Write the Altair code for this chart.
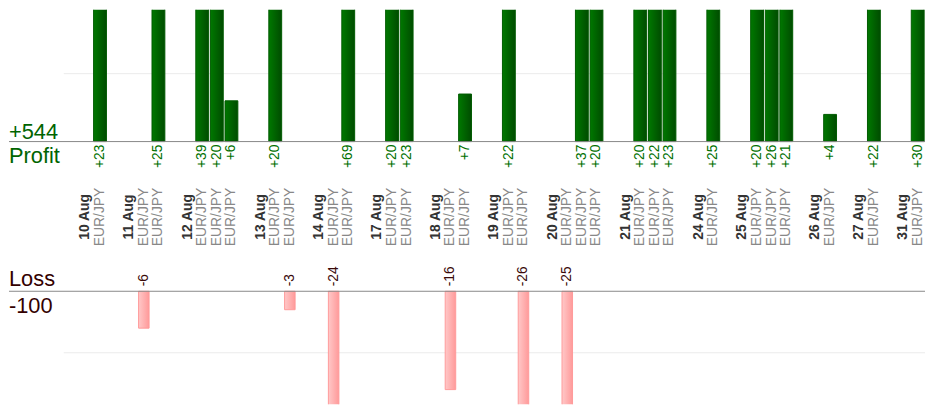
import altair as alt
import pandas as pd

# ---- data ----
dates = ["10 Aug", "11 Aug", "12 Aug", "13 Aug", "14 Aug", "17 Aug", "18 Aug",
         "19 Aug", "20 Aug", "21 Aug", "24 Aug", "25 Aug", "26 Aug", "27 Aug", "31 Aug"]
trades = [[23], [-6, 25], [39, 20, 6], [20, -3], [-24, 69], [20, 23], [-16, 7],
          [22, -26], [-25, 37, 20], [20, 22, 23], [25], [20, 26, 21], [4], [22], [30]]
symbol = "EUR/JPY"
profit_grid = [10, 20]
loss_grid = [-10]

# ---- build slot tables (spacer, date label, then one slot per trade) ----
date_rows, trade_rows = [], []
slot = 0
for d, ts in zip(dates, trades):
    slot += 1
    date_rows.append({"slot": slot, "date": d})
    slot += 1
    for v in ts:
        trade_rows.append({"slot": slot, "pnl": v, "symbol": symbol,
                           "label": f"+{v}" if v > 0 else str(v)})
        slot += 1
n_slots = slot

ddf = pd.DataFrame(date_rows)
tdf = pd.DataFrame(trade_rows)
pdf = tdf[tdf.pnl > 0]
ldf = tdf[tdf.pnl < 0]
total_profit = int(pdf.pnl.sum())
total_loss = int(ldf.pnl.sum())
zero = pd.DataFrame({"z": [0]})

W, H = 869, 398
LEFT = -55
FONT = "Liberation Sans"

xenc = alt.X("slot:O", scale=alt.Scale(type="band", domain=list(range(n_slots)),
                                       paddingInner=0, paddingOuter=0), axis=None)

top_scale = alt.Scale(domain=[-(H - 133) / 6.85, 133 / 6.85], nice=False, zero=False)
bot_scale = alt.Scale(domain=[-(H - 284) / 6.2, 284 / 6.2], nice=False, zero=False)

green = alt.Gradient(gradient="linear", x1=0, x2=1, y1=0, y2=0,
                     stops=[alt.GradientStop(color="#007800", offset=0),
                            alt.GradientStop(color="#004c00", offset=1)])
pink = alt.Gradient(gradient="linear", x1=0, x2=1, y1=0, y2=0,
                    stops=[alt.GradientStop(color="#ffc8c8", offset=0),
                           alt.GradientStop(color="#ff9a9a", offset=1)])

# ---- profit (top) ----
grid_t = alt.Chart(pd.DataFrame({"g": profit_grid})).mark_rule(
    color="#ebebeb", clip=True).encode(y=alt.Y("g:Q", scale=top_scale, axis=None))
bars_p = alt.Chart(pdf).mark_bar(
    clip=True, color=green, stroke="#005a00", strokeWidth=1,
    width=alt.RelativeBandSize(0.88)).encode(
    x=xenc, y=alt.Y("pnl:Q", scale=top_scale, axis=None),
    y2=alt.Y2(datum=0))
base_t = alt.Chart(zero).mark_rule(color="#888888", strokeWidth=1).encode(
    x=alt.value(LEFT), x2=alt.value(W), y=alt.Y("z:Q", scale=top_scale, axis=None))
lab_p = alt.Chart(pdf).mark_text(
    angle=270, align="right", baseline="middle", dx=-3, fontSize=14,
    font=FONT, color="#007000").encode(
    x=xenc, y=alt.Y("z:Q", scale=top_scale, axis=None), text="label:N"
).transform_calculate(z="0")
tot_p = alt.Chart(zero).mark_text(
    align="left", baseline="alphabetic", dy=-3, fontSize=22, font=FONT,
    color="#006400", text=f"+{total_profit}").encode(
    x=alt.value(LEFT), y=alt.Y("z:Q", scale=top_scale, axis=None))
name_p = alt.Chart(zero).mark_text(
    align="left", baseline="alphabetic", dy=22, fontSize=22, font=FONT,
    color="#006400", text="Profit").encode(
    x=alt.value(LEFT), y=alt.Y("z:Q", scale=top_scale, axis=None))
top = alt.layer(grid_t, bars_p, base_t, lab_p, tot_p, name_p)

# ---- loss (bottom) ----
grid_b = alt.Chart(pd.DataFrame({"g": loss_grid})).mark_rule(
    color="#ebebeb", clip=True).encode(y=alt.Y("g:Q", scale=bot_scale, axis=None))
bars_l = alt.Chart(ldf).mark_bar(
    clip=True, color=pink, stroke="#ff9a9a", strokeWidth=1,
    width=alt.RelativeBandSize(0.72)).encode(
    x=xenc, y=alt.Y("pnl:Q", scale=bot_scale, axis=None),
    y2=alt.Y2(datum=0))
base_b = alt.Chart(zero).mark_rule(color="#888888", strokeWidth=1).encode(
    x=alt.value(LEFT), x2=alt.value(W), y=alt.Y("z:Q", scale=bot_scale, axis=None))
lab_l = alt.Chart(ldf).mark_text(
    angle=270, align="left", baseline="middle", dx=5, fontSize=14,
    font=FONT, color="#3a0a0a").encode(
    x=xenc, y=alt.Y("z:Q", scale=bot_scale, axis=None), text="label:N"
).transform_calculate(z="0")
tot_l = alt.Chart(zero).mark_text(
    align="left", baseline="alphabetic", dy=22, fontSize=22, font=FONT,
    color="#330000", text=f"{total_loss}").encode(
    x=alt.value(LEFT), y=alt.Y("z:Q", scale=bot_scale, axis=None))
name_l = alt.Chart(zero).mark_text(
    align="left", baseline="alphabetic", dy=-5, fontSize=22, font=FONT,
    color="#330000", text="Loss").encode(
    x=alt.value(LEFT), y=alt.Y("z:Q", scale=bot_scale, axis=None))
bottom = alt.layer(grid_b, bars_l, base_b, lab_l, tot_l, name_l)

# ---- middle labels ----
date_txt = alt.Chart(ddf).mark_text(
    angle=270, align="center", baseline="middle", fontSize=14, fontWeight="bold",
    font=FONT, color="#333333").encode(x=xenc, y=alt.value(209), text="date:N")
sym_txt = alt.Chart(tdf).mark_text(
    angle=270, align="center", baseline="middle", fontSize=14,
    font=FONT, color="#888888").encode(x=xenc, y=alt.value(209), text="symbol:N")
mid = alt.layer(date_txt, sym_txt)

chart = alt.layer(top, bottom, mid).resolve_scale(y="independent").properties(
    width=W, height=H, padding=0, background="white"
).configure(font=FONT, view=alt.ViewConfig(stroke=None))

chart.save("out.html", embed_options={"renderer": "svg", "actions": False})
